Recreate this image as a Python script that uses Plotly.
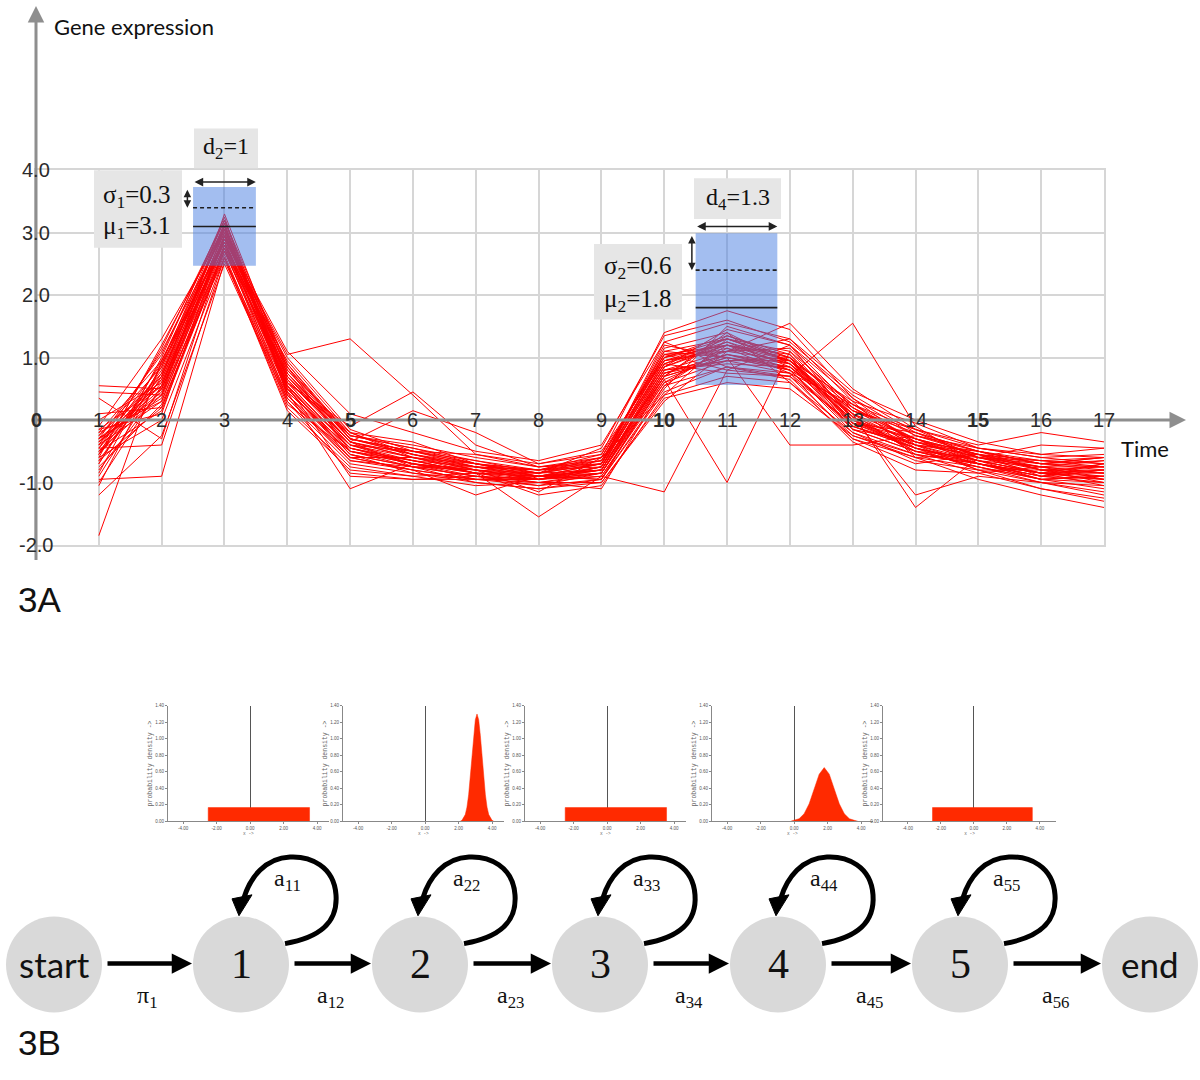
import plotly.graph_objects as go

# ======================= DATA =======================
# ---- Panel 3A: gene expression profiles over 17 time points ----
time_points = [1, 2, 3, 4, 5, 6, 7, 8, 9, 10, 11, 12, 13, 14, 15, 16, 17]

expression_profiles = [
    [-0.30, 0.55, 2.95, 0.70, -0.35, -0.60, -0.80, -0.95, -0.75, 0.90, 1.20, 0.95, 0.05, -0.35, -0.60, -0.85, -0.80],
    [-0.55, 0.80, 3.10, 0.55, -0.50, -0.70, -0.85, -0.90, -0.85, 0.70, 1.35, 1.05, -0.10, -0.45, -0.65, -0.75, -0.95],
    [-0.20, 0.30, 2.80, 0.85, -0.25, -0.45, -0.70, -0.85, -0.60, 1.10, 1.00, 0.80, 0.20, -0.30, -0.55, -0.90, -0.70],
    [-0.85, 1.00, 3.25, 0.40, -0.60, -0.80, -0.95, -1.05, -0.95, 0.50, 1.50, 1.20, 0.00, -0.50, -0.70, -0.85, -1.05],
    [0.55, 0.50, 2.70, 0.95, -0.20, -0.55, -0.75, -0.85, -0.70, 1.25, 0.85, 0.70, -0.05, -0.20, -0.50, -0.70, -0.60],
    [-1.20, -0.25, 2.50, 0.30, -0.70, -0.85, -1.00, -1.10, -1.00, 0.30, 1.10, 1.30, 0.30, -0.60, -0.75, -1.00, -1.20],
    [-0.45, 0.65, 3.00, 0.65, -0.40, -0.65, -0.75, -0.95, -0.80, 0.85, 1.25, 0.85, 0.10, -0.40, -0.55, -0.80, -0.85],
    [-1.85, 0.95, 2.85, 0.50, -0.55, -0.75, -0.90, -1.00, -0.90, 0.60, 0.95, 1.00, -0.15, -0.35, -0.65, -0.95, -0.90],
    [-0.10, 1.30, 3.05, 0.80, -0.30, -0.50, -0.65, -0.80, -0.55, 1.40, 1.75, 1.45, 0.35, -0.25, -0.45, -0.60, -0.55],
    [-0.60, 0.00, 2.60, 0.20, -0.75, -0.90, -0.85, -1.20, -1.05, 0.40, 0.70, 0.60, -0.20, -0.65, -0.80, -1.10, -1.30],
    [-0.35, 0.45, 2.90, 1.05, 1.30, 0.40, -0.55, -0.70, -0.50, 0.95, 1.15, 0.75, 0.25, -0.15, -0.60, -0.75, -0.65],
    [-0.70, 0.85, 3.15, 0.45, -0.45, -0.70, -0.90, -0.95, -0.85, 0.75, 1.05, 0.90, 0.00, -0.40, -0.70, -0.90, -1.00],
    [0.10, 0.20, 2.75, 0.60, -0.10, 0.45, -0.40, -0.75, -0.65, 1.00, 1.30, 0.95, 0.15, -0.20, -0.60, -0.40, -0.45],
    [-0.95, -0.90, 2.55, 0.35, -0.65, -0.80, -1.20, -0.90, -0.95, 0.65, -1.00, 1.10, 0.05, -0.50, -0.75, -0.95, -1.10],
    [-0.25, 0.70, 2.95, 0.90, -0.30, -0.55, -0.80, -0.85, -0.70, 1.15, 1.40, 0.60, -0.30, -0.70, -0.55, -0.70, -0.75],
    [-0.50, 0.40, 3.30, 0.75, -0.35, -0.60, -0.70, -0.90, -0.80, 0.80, 0.90, 0.85, 0.10, -1.40, -0.60, -0.80, -0.90],
    [-0.40, 1.10, 3.00, 0.55, -0.90, -0.95, -0.95, -1.00, -1.10, 0.55, 1.20, 1.00, -0.05, -0.30, -0.65, -0.85, -0.95],
    [-0.75, 0.25, 2.65, 0.25, -0.50, -0.65, -0.85, -1.55, -0.90, -1.15, 0.80, 0.70, 1.55, -0.10, -0.70, -0.90, -0.80],
    [0.00, 0.60, 2.85, 0.70, -0.25, -0.40, -0.60, -0.75, -0.60, 1.05, 1.10, 1.55, 0.50, -0.15, -0.40, -0.20, -0.35],
    [-0.65, 0.75, 3.10, 0.60, -0.45, -0.65, -0.85, -0.95, -0.75, 0.70, 1.00, 0.80, -0.20, -0.55, -0.70, -0.85, -0.90],
    [-0.30, 0.35, 2.90, 1.00, -0.15, -0.50, -0.70, -0.85, -0.65, 0.90, 1.30, 1.10, 0.25, -0.35, -0.50, -0.70, -0.60],
    [-1.05, 0.90, 3.20, 0.50, -0.55, -0.75, -1.00, -1.10, -0.95, 0.45, 0.85, 0.65, -0.35, -0.80, -0.85, -1.10, -1.25],
    [-0.50, 0.15, 2.70, 0.45, -1.10, -0.70, -0.80, -0.90, -0.70, 0.85, 1.45, 1.20, 0.20, -0.45, -0.65, -0.85, -0.70],
    [-0.20, 0.95, 3.05, 0.80, -0.20, -0.60, -0.75, -0.80, -0.70, 1.20, 1.00, -0.40, -0.40, -0.25, -0.55, -0.75, -0.85],
    [-0.80, 0.50, 2.80, 0.35, -0.60, -0.80, -0.95, -0.95, -0.85, 0.60, 1.15, 0.90, 0.05, -1.20, -0.90, -1.00, -1.05],
    [-0.35, 0.75, 3.00, 0.65, -0.35, -0.55, -0.70, -0.90, -0.75, 0.95, 1.25, 0.95, 0.30, -0.05, -0.45, -0.60, -0.70],
    [0.45, 0.40, 2.95, 0.55, -0.40, -0.70, -0.80, -0.95, -0.80, 0.75, 0.95, 0.75, -0.10, -0.45, -0.80, -0.80, -1.00],
    [-0.60, 1.20, 3.10, 0.90, -0.25, -0.45, -0.65, -0.85, -0.45, 1.35, 1.60, 1.25, 0.40, -0.20, -0.50, -0.70, -0.65],
    [-0.45, -0.40, 2.60, 0.15, -0.80, -0.90, -1.05, -1.00, -1.00, 0.35, 0.60, 0.50, -0.25, -0.60, -0.95, -1.20, -1.40],
    [-0.15, 0.55, 2.85, 0.75, -0.30, -0.50, -0.75, -0.80, -0.60, 1.05, 1.20, 0.90, 0.15, -0.30, -0.60, -0.75, -0.75],
    [-0.90, 0.70, 3.15, 0.40, -0.50, -0.75, -0.90, -1.05, -0.85, 0.65, 1.05, 0.85, 0.00, -0.45, -0.70, -0.90, -0.95],
    [-0.40, 0.30, 2.75, 0.70, -0.35, 0.15, -0.20, -0.70, -0.55, 1.00, 1.35, 1.00, 0.20, -0.35, -0.60, -0.65, -0.60],
    [-0.25, 0.85, 3.05, 0.60, -0.45, -0.65, -0.85, -0.90, -0.80, 0.80, 1.10, 0.95, -0.05, -0.40, -0.65, -0.85, -0.85],
    [-0.55, 0.60, 2.90, 0.50, -0.40, -0.60, -0.80, -0.95, -0.75, 0.90, 0.75, 0.70, -0.25, -0.55, -0.70, -0.95, -1.00],
    [-0.35, 0.50, 2.95, 0.75, -0.30, -0.55, -0.75, -0.90, -0.70, 1.00, 1.20, 1.05, 0.10, -0.30, -0.55, -0.80, -0.80],
    [-0.65, 0.20, 2.70, 0.55, -0.55, -0.85, -0.95, -0.90, -0.80, 0.75, 1.05, 0.80, -0.15, -0.50, -0.75, -0.95, -0.90],
    [-0.30, 1.05, 3.20, 0.85, -0.30, -0.50, -0.70, -0.80, -0.65, 1.10, 1.30, 1.00, 0.25, -0.25, -0.50, -0.65, -0.70],
    [-0.50, 0.65, 2.85, 0.45, -0.45, -0.70, -0.85, -1.00, -0.85, 0.70, 1.00, 0.85, -0.05, -0.45, -0.70, -0.85, -0.95],
    [-0.45, 0.90, 2.75, 0.30, -0.85, -0.95, -0.90, -0.95, -0.90, 0.55, 0.85, 0.75, -0.30, -0.60, -0.55, -0.65, -0.75],
    [-0.15, 0.10, 2.95, 1.10, 0.10, -0.20, -0.50, -0.65, -0.40, 1.25, 1.55, 1.30, 0.45, 0.00, -0.35, -0.55, -0.45],
    [-1.00, 0.55, 3.05, 0.50, -0.60, -0.60, -0.85, -0.85, -0.80, 0.85, 1.20, 0.80, -0.10, -0.40, -0.80, -1.00, -1.15],
    [-0.55, 1.15, 3.20, 0.70, -0.40, -0.50, -0.55, -0.75, -0.70, 0.95, 1.10, 1.15, 0.15, -0.15, -0.45, -0.55, -0.60],
    [-0.30, 0.40, 2.60, 0.40, -0.65, -0.75, -0.80, -1.15, -0.60, 0.40, 1.30, 0.95, 0.10, -0.55, -0.85, -0.75, -0.85],
    [-0.70, 0.95, 2.90, 0.85, -0.50, -0.70, -0.95, -0.95, -0.85, 0.80, 0.95, 0.95, 0.00, -0.30, -0.70, -0.95, -0.90],
    [0.35, -0.30, 2.80, 0.60, -0.20, -0.35, -0.70, -0.80, -0.75, 1.05, 0.80, 1.20, 0.35, -0.40, -0.50, -0.80, -0.75],
    [-0.40, 0.70, 3.10, 0.65, -0.35, -0.75, -0.75, -0.90, -0.95, 0.70, 1.40, 0.90, -0.15, -0.50, -0.60, -0.70, -0.80],
]

x_tick_values = [0, 1, 2, 3, 4, 5, 6, 7, 8, 9, 10, 11, 12, 13, 14, 15, 16, 17]
x_tick_labels = ["0", "1", "2", "3", "4", "5", "6", "7", "8", "9", "10",
                 "11", "12", "13", "14", "15", "16", "17"]
x_tick_bold = [0, 5, 10, 15]
y_tick_values = [-2, -1, 1, 2, 3, 4]
y_tick_labels = ["-2.0", "-1.0", "1.0", "2.0", "3.0", "4.0"]

# highlighted HMM states on the profiles
state_start = [2.5, 10.5]
state_duration = [1.0, 1.3]
state_mu = [3.1, 1.8]
state_sigma = [0.3, 0.6]
state_band_low = [2.47, 0.56]
state_band_high = [3.73, 2.99]
duration_labels = ["d<sub>2</sub>=1", "d<sub>4</sub>=1.3"]
sigma_labels = ["σ<sub>1</sub>=0.3", "σ<sub>2</sub>=0.6"]
mu_labels = ["μ<sub>1</sub>=3.1", "μ<sub>2</sub>=1.8"]

# ---- Panel 3B: emission densities of the five states ----
density_kind = ["uniform", "normal", "uniform", "normal", "uniform"]
uniform_low = -2.5
uniform_high = 3.55
uniform_height = 0.165
normal_x = {
    1: [2.1, 2.2, 2.4, 2.5, 2.6, 2.7, 2.8, 2.9, 3.0, 3.1, 3.2, 3.3, 3.4, 3.5, 3.6, 3.7, 3.8, 4.0, 4.1],
    3: [-0.2, 0.0, 0.3, 0.6, 0.9, 1.2, 1.5, 1.8, 2.1, 2.4, 2.7, 3.0, 3.3, 3.6, 3.8],
}
normal_y = {
    1: [0.0, 0.01, 0.08, 0.17, 0.32, 0.54, 0.79, 1.04, 1.23, 1.30, 1.23, 1.04, 0.79, 0.54, 0.32, 0.17, 0.08, 0.01, 0.0],
    3: [0.0, 0.01, 0.03, 0.09, 0.21, 0.39, 0.57, 0.65, 0.57, 0.39, 0.21, 0.09, 0.03, 0.01, 0.0],
}
density_y_ticks = [0, 0.2, 0.4, 0.6, 0.8, 1.0, 1.2, 1.4]
density_y_labels = ["0.00", "0.20", "0.40", "0.60", "0.80", "1.00", "1.20", "1.40"]
density_x_ticks = [-4, -2, 0, 2, 4]
density_x_labels = ["-4.00", "-2.00", "0.00", "2.00", "4.00"]

# ---- Panel 3B: HMM topology ----
state_names = ["start", "1", "2", "3", "4", "5", "end"]
self_loop_labels = ["a<sub>11</sub>", "a<sub>22</sub>", "a<sub>33</sub>", "a<sub>44</sub>", "a<sub>55</sub>"]
transition_labels = ["π<sub>1</sub>", "a<sub>12</sub>", "a<sub>23</sub>", "a<sub>34</sub>",
                     "a<sub>45</sub>", "a<sub>56</sub>"]

# ======================= LAYOUT CONSTANTS =======================
W, H = 1200, 1080
MAIN_L, MAIN_R = 36, 1104        # px of x=0 and x=17
MAIN_B, MAIN_T = 545.5, 169      # px of y=-2 and y=4
SERIF = "Liberation Serif"
SANS = "Liberation Sans"
HUMAN = "Lato"
RED = "#ff0000"
FILL_RED = "#ff2a00"
GRID = "#d6d6d6"
AXIS_GRAY = "#8e8e8e"
BOX_GRAY = "#e6e6e6"

D_BOXES = [(194, 127, 258, 167), (694, 177, 781, 218)]
D_TEXT = [(226, 147), (737.5, 198)]
MS_BOXES = [(94, 169, 182, 247), (594, 243, 682, 319)]
SIGMA_TEXT = [(137, 195), (638, 267)]
MU_TEXT = [(137, 227), (638, 300)]
H_ARROW_Y = [3.81, 3.10]
V_ARROW_X = [2.41, 10.44]

PANEL_LEFT = [168, 343, 525, 712, 883]
PANEL_RANGE = [[-4.9, 4.7], [-4.9, 4.7], [-4.9, 4.7], [-4.9, 4.7], [-5.5, 5.0]]
PANEL_PPU = [16.75, 16.75, 16.75, 16.75, 16.5]
PANEL_TOP, PANEL_BOT = 707, 823

NODE_X = [54, 241, 420, 600, 778, 960, 1150]
NODE_Y = 967
NODE_R = 48

fig = go.Figure()

# ---------------- 3A: profiles ----------------
xs, ys = [], []
for prof in expression_profiles:
    xs += time_points + [None]
    ys += prof + [None]
fig.add_trace(go.Scatter(x=xs, y=ys, mode="lines", line=dict(color=RED, width=1),
                         xaxis="x", yaxis="y", hoverinfo="skip", showlegend=False,
                         connectgaps=False))

shapes = []
annotations = []

for i in range(2):
    x0 = state_start[i]
    x1 = state_start[i] + state_duration[i]
    shapes.append(dict(type="rect", xref="x", yref="y", x0=x0, x1=x1,
                       y0=state_band_low[i], y1=state_band_high[i],
                       fillcolor="rgba(72,125,225,0.5)", line=dict(width=0), layer="above"))
    shapes.append(dict(type="line", xref="x", yref="y", x0=x0, x1=x1,
                       y0=state_mu[i], y1=state_mu[i],
                       line=dict(color="#1e1e1e", width=1.6), layer="above"))
    yd = state_mu[i] + state_sigma[i]
    shapes.append(dict(type="line", xref="x", yref="y", x0=x0, x1=x1, y0=yd, y1=yd,
                       line=dict(color="#1e1e1e", width=1.6, dash="4px,3px"), layer="above"))
    annotations.append(dict(xref="x", yref="y", axref="x", ayref="y",
                            x=x1, y=H_ARROW_Y[i], ax=x0, ay=H_ARROW_Y[i], text="",
                            showarrow=True, arrowside="end+start", arrowhead=2,
                            arrowsize=1.15, arrowwidth=1.5, arrowcolor="#222"))
    annotations.append(dict(xref="x", yref="y", axref="x", ayref="y",
                            x=V_ARROW_X[i], y=yd, ax=V_ARROW_X[i], ay=state_band_high[i] - 0.02,
                            text="", showarrow=True, arrowside="end+start", arrowhead=2,
                            arrowsize=1.0, arrowwidth=1.5, arrowcolor="#222"))
    bx = D_BOXES[i]
    shapes.append(dict(type="rect", xref="x8", yref="y8", x0=bx[0], x1=bx[2], y0=bx[1], y1=bx[3],
                       fillcolor=BOX_GRAY, line=dict(width=0), layer="above"))
    bx = MS_BOXES[i]
    shapes.append(dict(type="rect", xref="x8", yref="y8", x0=bx[0], x1=bx[2], y0=bx[1], y1=bx[3],
                       fillcolor=BOX_GRAY, line=dict(width=0), layer="above"))
    annotations.append(dict(xref="x8", yref="y8", x=D_TEXT[i][0], y=D_TEXT[i][1],
                            text=duration_labels[i], showarrow=False,
                            font=dict(family=SERIF, size=24, color="#111")))
    annotations.append(dict(xref="x8", yref="y8", x=SIGMA_TEXT[i][0], y=SIGMA_TEXT[i][1],
                            text=sigma_labels[i], showarrow=False,
                            font=dict(family=SERIF, size=25, color="#111")))
    annotations.append(dict(xref="x8", yref="y8", x=MU_TEXT[i][0], y=MU_TEXT[i][1],
                            text=mu_labels[i], showarrow=False,
                            font=dict(family=SERIF, size=25, color="#111")))

# axis arrows (grey)
annotations.append(dict(xref="x8", yref="y8", axref="x8", ayref="y8", x=MAIN_L, y=4,
                        ax=MAIN_L, ay=562, text="", showarrow=True, arrowhead=2,
                        arrowsize=1.1, arrowwidth=3, arrowcolor=AXIS_GRAY))
annotations.append(dict(xref="x8", yref="y8", axref="x8", ayref="y8", x=1186, y=420,
                        ax=30, ay=420, text="", showarrow=True, arrowhead=2,
                        arrowsize=1.1, arrowwidth=3, arrowcolor=AXIS_GRAY))

for v, lab in zip(x_tick_values, x_tick_labels):
    txt = "<b>" + lab + "</b>" if v in x_tick_bold else lab
    annotations.append(dict(xref="x", yref="y", x=v, y=0, text=txt, showarrow=False,
                            font=dict(family=SANS, size=20, color="#2b2b2b")))
for v, lab in zip(y_tick_values, y_tick_labels):
    annotations.append(dict(xref="x", yref="y", x=0, y=v, text=lab, showarrow=False,
                            font=dict(family=SANS, size=20, color="#2b2b2b")))

annotations.append(dict(xref="x8", yref="y8", x=52, y=25, text="Gene expression",
                        xanchor="left", showarrow=False,
                        font=dict(family=HUMAN, size=22, color="#111")))
annotations.append(dict(xref="x8", yref="y8", x=1119, y=449, text="Time",
                        xanchor="left", showarrow=False,
                        font=dict(family=HUMAN, size=22, color="#111")))
annotations.append(dict(xref="x8", yref="y8", x=16, y=600, text="3A", xanchor="left",
                        showarrow=False, font=dict(family=SANS, size=35, color="#111")))
annotations.append(dict(xref="x8", yref="y8", x=16, y=1045, text="3B", xanchor="left",
                        showarrow=False, font=dict(family=SANS, size=35, color="#111")))

layout_axes = {}
layout_axes["xaxis"] = dict(domain=[MAIN_L / W, MAIN_R / W], range=[0, 17], anchor="y",
                            tickvals=time_points, showticklabels=False, ticks="",
                            showgrid=True, gridcolor=GRID, gridwidth=1.5, zeroline=False,
                            showline=True, mirror=True, linecolor=GRID, linewidth=1.5)
layout_axes["yaxis"] = dict(domain=[1 - MAIN_B / H, 1 - MAIN_T / H], range=[-2, 4], anchor="x",
                            tickvals=[-2, -1, 0, 1, 2, 3, 4], showticklabels=False, ticks="",
                            showgrid=True, gridcolor=GRID, gridwidth=1.5, zeroline=False,
                            showline=True, mirror=True, linecolor=GRID, linewidth=1.5)

# ---------------- 3B: density panels ----------------
for k in range(5):
    aid = k + 2
    L = PANEL_LEFT[k]
    r0, r1 = PANEL_RANGE[k]
    R = L + (r1 - r0) * PANEL_PPU[k]
    if density_kind[k] == "uniform":
        dx = [uniform_low, uniform_low, uniform_high, uniform_high]
        dy = [0, uniform_height, uniform_height, 0]
    else:
        dx = normal_x[k]
        dy = normal_y[k]
    fig.add_trace(go.Scatter(x=dx, y=dy, mode="lines", fill="toself", fillcolor=FILL_RED,
                             line=dict(color=FILL_RED, width=0.5), xaxis=f"x{aid}",
                             yaxis=f"y{aid}", hoverinfo="skip", showlegend=False))
    layout_axes[f"xaxis{aid}"] = dict(
        domain=[L / W, R / W], range=[r0, r1], anchor=f"y{aid}",
        tickvals=density_x_ticks, ticktext=density_x_labels,
        tickfont=dict(family=SANS, size=4.5, color="#555"), ticks="outside", ticklen=2,
        tickcolor="#888", showline=True, linecolor="#888", linewidth=1, showgrid=False,
        zeroline=True, zerolinecolor="#555", zerolinewidth=1,
        title=dict(text="x ->", font=dict(family="Liberation Mono", size=4.5, color="#666"),
                   standoff=1))
    layout_axes[f"yaxis{aid}"] = dict(
        domain=[1 - PANEL_BOT / H, 1 - PANEL_TOP / H], range=[0, 1.4], anchor=f"x{aid}",
        tickvals=density_y_ticks, ticktext=density_y_labels,
        tickfont=dict(family=SANS, size=4.5, color="#555"), ticks="outside", ticklen=2,
        tickcolor="#888", showline=True, linecolor="#888", linewidth=1, showgrid=False,
        zeroline=False,
        title=dict(text="probability density ->",
                   font=dict(family="Liberation Mono", size=6.5, color="#666"), standoff=2))

# ---------------- 3B: HMM diagram ----------------
fig.add_trace(go.Scatter(x=NODE_X, y=[NODE_Y] * len(NODE_X), mode="markers",
                         marker=dict(size=2 * NODE_R, color="#d9d9d9", line=dict(width=0)),
                         xaxis="x8", yaxis="y8", hoverinfo="skip", showlegend=False))
for i, name in enumerate(state_names):
    if name in ("start", "end"):
        f = dict(family=HUMAN, size=35, color="#111")
    else:
        f = dict(family=SERIF, size=42, color="#111")
    annotations.append(dict(xref="x8", yref="y8", x=NODE_X[i], y=NODE_Y - 1, text=name,
                            showarrow=False, font=f))

for i in range(len(state_names) - 1):
    xa = NODE_X[i] + 52
    xb = NODE_X[i + 1] - 49
    annotations.append(dict(xref="x8", yref="y8", axref="x8", ayref="y8", x=xb, y=NODE_Y - 1,
                            ax=xa, ay=NODE_Y - 1, text="", showarrow=True, arrowhead=2,
                            arrowsize=0.9, arrowwidth=4.5, arrowcolor="#000"))
    annotations.append(dict(xref="x8", yref="y8", x=(NODE_X[i] + NODE_X[i + 1]) / 2,
                            y=1000, text=transition_labels[i], showarrow=False,
                            font=dict(family=SERIF, size=24, color="#111")))

LOOP = [(44, -21), (79, -27), (97, -42), (95, -70), (93, -99), (69, -109), (49, -108),
        (24, -107), (9, -87), (3, -67)]
HEAD = [(-2, -49), (-9, -66), (11, -70)]
for j in range(5):
    cx = NODE_X[j + 1]
    cy = NODE_Y
    p = [f"{cx + dx},{cy + dy}" for dx, dy in LOOP]
    path = f"M {p[0]} C {p[1]} {p[2]} {p[3]} C {p[4]} {p[5]} {p[6]} C {p[7]} {p[8]} {p[9]}"
    shapes.append(dict(type="path", xref="x8", yref="y8", path=path,
                       line=dict(color="#000", width=5), layer="above"))
    hp = [f"{cx + dx},{cy + dy}" for dx, dy in HEAD]
    shapes.append(dict(type="path", xref="x8", yref="y8",
                       path=f"M {hp[0]} L {hp[1]} L {hp[2]} Z",
                       fillcolor="#000", line=dict(color="#000", width=1), layer="above"))
    annotations.append(dict(xref="x8", yref="y8", x=cx + 46, y=cy - 85,
                            text=self_loop_labels[j], showarrow=False,
                            font=dict(family=SERIF, size=24, color="#111")))

layout_axes["xaxis8"] = dict(domain=[0, 1], range=[0, W], anchor="y8", visible=False,
                             showgrid=False, zeroline=False)
layout_axes["yaxis8"] = dict(domain=[0, 1], range=[H, 0], anchor="x8", visible=False,
                             showgrid=False, zeroline=False)

fig.update_layout(
    width=W, height=H, margin=dict(l=0, r=0, t=0, b=0),
    paper_bgcolor="white", plot_bgcolor="rgba(0,0,0,0)",
    showlegend=False, shapes=shapes, annotations=annotations,
    **layout_axes,
)

fig.write_html("out.html", config={"displayModeBar": False},
               post_script="document.body.style.margin='0px';")
